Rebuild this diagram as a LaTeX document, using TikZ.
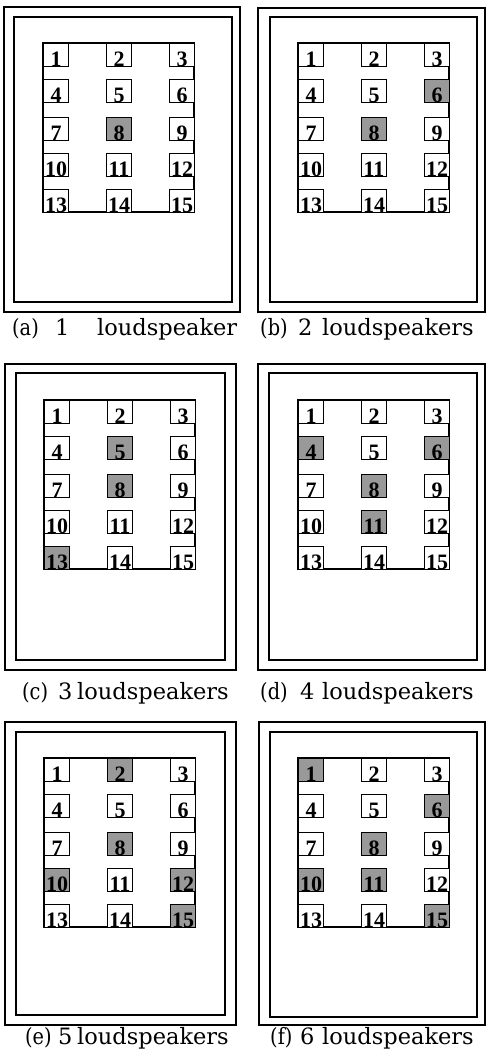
\documentclass[tikz,border=0pt]{standalone}
\usepackage{graphicx}
\usepackage{fontspec}
\setmainfont{DejaVu Serif}
\newfontfamily\capfont{DejaVu Serif}
\newfontfamily\numfont{Liberation Serif}
\begin{document}
\begin{tikzpicture}[x=1pt,y=-1pt,
  outerbox/.style={draw, line width=2.8pt},
  innerbox/.style={draw, line width=1.3pt},
  gridbox/.style={draw, line width=1.1pt},
  spk/.style={draw, line width=1.1pt, fill=white, rectangle, minimum width=25pt, minimum height=23pt, inner sep=0pt, anchor=north west},
  litspk/.style={spk, fill=black!40},
  num/.style={font=\numfont\bfseries\fontsize{22}{22}\selectfont, anchor=base, inner sep=0pt},
  captext/.style={font=\capfont\fontsize{22.5}{23}\selectfont, anchor=base west, inner sep=0pt}]
\path[use as bounding box] (0,0) rectangle (487,1056);
\foreach \p/\ox/\oy/\oX/\oY/\ix/\iy/\iX/\iY/\gx/\gy/\lit in {
  a/4/7/240/312/14/17/232/302/43/43/{8},
  b/258/8/485/312/270/17/477/302/298/43/{6,8},
  c/5/364/236/670/16/373/225/660/44/400/{5,8,13},
  d/258/364/485/670/269/373/477/660/298/400/{4,6,8,11},
  e/5/722/236/1025/16/732/225/1015/44/758/{2,8,10,12,15},
  f/259/722/485/1025/270/732/477/1017/298/758/{1,6,8,10,11,15}} {
  \draw[outerbox] (\ox,\oy) rectangle (\oX,\oY);
  \draw[innerbox] (\ix,\iy) rectangle (\iX,\iY);
  \draw[gridbox] (\gx,\gy) rectangle (\gx+151,\gy+169);
  \foreach \r/\ry in {0/0,1/36,2/74,3/110,4/146} {
    \foreach \c/\cx in {1/0,2/63,3/126} {
      \pgfmathtruncatemacro\k{3*\r+\c}
      \node[spk] (\p\k) at (\gx+\cx,\gy+\ry) {};
    }
  }
  \foreach \s in \lit {
    \node[litspk] (\p L\s) at (\p\s.north west) {};
  }
  \foreach \k in {1,...,15} {
    \node[num] (\p n\k) at ([yshift=1pt]\p\k.south) {\k};
  }
}
\foreach \p/\x/\y/\t/\nx/\n/\wx/\w in {
  a/12/335/a/55/1/97/loudspeaker,
  b/260/335/b/298/2/322/loudspeakers,
  c/22/699/c/58/3/77/loudspeakers,
  d/260/699/d/300/4/322/loudspeakers,
  e/25/1044/e/58/5/77/loudspeakers,
  f/270/1044/f/300/6/322/loudspeakers} {
  \node[captext] (cap\p1) at (\x,\y) {\scalebox{0.86}[1]{(\t)}};
  \node[captext] (cap\p2) at (\nx,\y) {\n};
  \node[captext] (cap\p3) at (\wx,\y) {\w};
}
\end{tikzpicture}
\end{document}
